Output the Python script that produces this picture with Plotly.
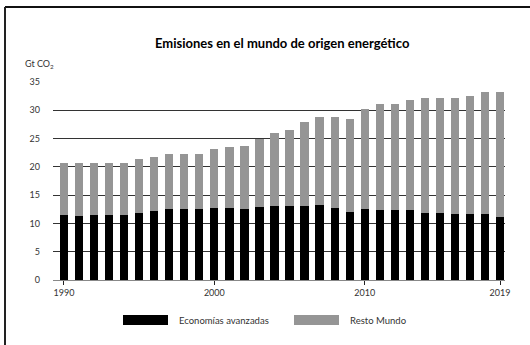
import plotly.graph_objects as go

# Emisiones de CO2 de origen energético (Gt CO2)
years = list(range(1990, 2020))
avanzadas = [11.5, 11.3, 11.5, 11.5, 11.5, 11.8, 12.2, 12.6, 12.6, 12.6,
             12.75, 12.75, 12.6, 12.9, 13.05, 13.05, 13.05, 13.2, 12.75, 12.0,
             12.6, 12.4, 12.4, 12.4, 11.8, 11.8, 11.65, 11.65, 11.65, 11.1]
total = [20.7, 20.7, 20.7, 20.7, 20.7, 21.35, 21.8, 22.3, 22.3, 22.3,
         23.1, 23.5, 23.7, 24.9, 25.9, 26.6, 27.9, 28.8, 28.9, 28.4,
         30.2, 31.1, 31.2, 31.9, 32.1, 32.1, 32.1, 32.5, 33.2, 33.2]
resto = [round(t - a, 2) for t, a in zip(total, avanzadas)]

x_ticks = [1990, 2000, 2010, 2019]
y_ticks = [0, 5, 10, 15, 20, 25, 30, 35]
series_names = ["Economías avanzadas", "Resto Mundo"]
colors = ["#000000", "#959595"]

W, H = 530, 345
L, R, T, B = 53, 25, 82, 65
PW, PH = W - L - R, H - T - B


def px(xp):
    return (xp - L) / PW


def py(yp):
    return (H - B - yp) / PH


FONT = "Lato"
fig = go.Figure()
for name, vals, col in zip(series_names, [avanzadas, resto], colors):
    fig.add_trace(go.Bar(x=years, y=vals, name=name, marker_color=col,
                         marker_line_width=0, width=0.55, showlegend=False))

shapes = []
# outer frame (top and left edges)
shapes.append(dict(type="line", xref="paper", yref="paper", x0=px(5), x1=px(540),
                   y0=py(7), y1=py(7), line=dict(color="#111", width=2)))
shapes.append(dict(type="line", xref="paper", yref="paper", x0=px(5), x1=px(5),
                   y0=py(7), y1=py(360), line=dict(color="#222", width=2)))

annotations = []
# custom legend with wide swatches
legend_items = [(series_names[0], colors[0], 123, 168, 177),
                (series_names[1], colors[1], 294, 339, 348)]
for name, col, x0, x1, xt in legend_items:
    shapes.append(dict(type="rect", xref="paper", yref="paper",
                       x0=px(x0), x1=px(x1), y0=py(325), y1=py(315),
                       fillcolor=col, line_width=0))
    annotations.append(dict(text=name, xref="paper", yref="paper", x=px(xt), y=py(320),
                            xanchor="left", yanchor="middle", showarrow=False,
                            font=dict(family=FONT, size=9.5, color="#333")))

annotations.append(dict(text="<b>Emisiones en el mundo de origen energético</b>",
                        xref="paper", yref="paper", x=px(282.5), y=py(43),
                        xanchor="center", yanchor="middle", showarrow=False,
                        font=dict(family=FONT, size=13, color="#000")))
annotations.append(dict(text="Gt CO<sub>2</sub>", xref="paper", yref="paper",
                        x=px(23), y=py(64), xanchor="left", yanchor="middle",
                        showarrow=False, font=dict(family=FONT, size=9, color="#333")))

fig.update_layout(
    width=W, height=H, barmode="stack", bargap=0,
    margin=dict(l=L, r=R, t=T, b=B, pad=0),
    paper_bgcolor="white", plot_bgcolor="white",
    shapes=shapes, annotations=annotations,
    font=dict(family=FONT, size=9, color="#333"),
)
fig.update_xaxes(range=[1989.27, 2019.33], tickmode="array", tickvals=x_ticks,
                 ticktext=[str(v) for v in x_ticks], ticks="outside", ticklen=4,
                 tickcolor="#222", showgrid=False, showline=True,
                 linecolor="#888", linewidth=1, zeroline=False,
                 tickfont=dict(family=FONT, size=9, color="#333"))
fig.update_yaxes(range=[0, 35], tickmode="array", tickvals=y_ticks,
                 showgrid=True, gridcolor="#333", gridwidth=1, zeroline=False,
                 showline=False, ticks="", ticklabelstandoff=12,
                 tickfont=dict(family=FONT, size=9, color="#333"))

fig.write_html("out.html")
